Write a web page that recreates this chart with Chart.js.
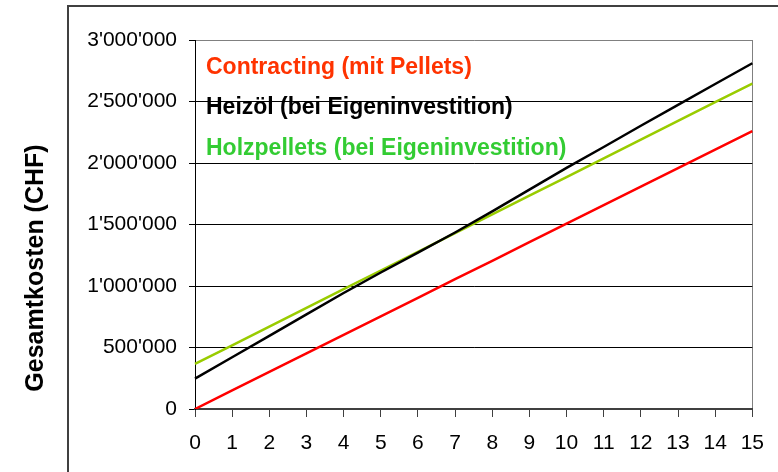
<!DOCTYPE html>
<html>
<head>
<meta charset="utf-8">
<script src="https://cdn.jsdelivr.net/npm/chart.js@4"></script>
<style>
    body { margin: 0; background: #fff; }
    #wrap { width: 778px; height: 472px; }
</style>
</head>
<body>
<div id="wrap"><canvas id="kostenChart" width="778" height="472"></canvas></div>
<script>
// Daten (Jahre und Gesamtkosten in CHF)
const jahre = ['0', '1', '2', '3', '4', '5', '6', '7', '8', '9', '10', '11', '12', '13', '14', '15'];

const contracting = [0, 151000, 301000, 452000, 603000, 753000, 904000, 1055000,
    1205000, 1356000, 1507000, 1657000, 1808000, 1959000, 2109000, 2260000];

const heizoel = [247000, 421000, 595000, 769000, 943000, 1110000, 1272000, 1435000,
    1606000, 1783000, 1960000, 2130000, 2303000, 2473000, 2642000, 2811000];

const holzpellets = [366000, 518000, 670000, 822000, 974000, 1126000, 1278000, 1430000,
    1582000, 1734000, 1886000, 2038000, 2190000, 2342000, 2494000, 2646000];

const serienNamen = ['Contracting (mit Pellets)', 'Heizöl (bei Eigeninvestition)', 'Holzpellets (bei Eigeninvestition)'];
const yTicks = [0, 500000, 1000000, 1500000, 2000000, 2500000, 3000000];
const yTitel = 'Gesamtkosten (CHF)';

const FONT = "'Liberation Sans', Arial, sans-serif";

// Zahl mit Apostroph als Tausendertrennzeichen
function formatCHF(value) {
    return String(value).replace(/\B(?=(\d{3})+(?!\d))/g, "'");
}

// Rahmen, Achsentitel und Beschriftungen zeichnen
const extras = {
    id: 'extras',
    beforeDraw(chart) {
        const ctx = chart.ctx;
        ctx.save();
        ctx.strokeStyle = '#404040';
        ctx.lineWidth = 2;
        ctx.beginPath();
        ctx.moveTo(68, 472);
        ctx.lineTo(68, 6);
        ctx.lineTo(778, 6);
        ctx.stroke();

        ctx.translate(43, 268);
        ctx.rotate(-Math.PI / 2);
        ctx.fillStyle = '#000';
        ctx.font = 'bold 25px ' + FONT;
        ctx.textAlign = 'center';
        ctx.textBaseline = 'alphabetic';
        ctx.fillText(yTitel, 0, 0);
        ctx.restore();
    },
    afterDraw(chart) {
        const ctx = chart.ctx;
        const farben = ['#FF3300', '#000000', '#33CC33'];
        const zeilen = [74, 114, 155];
        ctx.save();
        ctx.font = 'bold 23px ' + FONT;
        ctx.textAlign = 'left';
        ctx.textBaseline = 'alphabetic';
        serienNamen.forEach((name, i) => {
            ctx.fillStyle = farben[i];
            ctx.fillText(name, chart.chartArea.left + 11, zeilen[i]);
        });
        ctx.restore();
    }
};

const ctx = document.getElementById('kostenChart').getContext('2d');

new Chart(ctx, {
    type: 'line',
    data: {
        labels: jahre,
        datasets: [
            { label: serienNamen[0], data: contracting, borderColor: '#FF0000', borderWidth: 2.5, pointRadius: 0, tension: 0 },
            { label: serienNamen[1], data: heizoel, borderColor: '#000000', borderWidth: 2.5, pointRadius: 0, tension: 0 },
            { label: serienNamen[2], data: holzpellets, borderColor: '#99CC00', borderWidth: 2.5, pointRadius: 0, tension: 0 }
        ]
    },
    options: {
        responsive: false,
        animation: false,
        layout: { padding: { top: 40, right: 23, left: 0, bottom: 0 } },
        plugins: {
            legend: { display: false },
            tooltip: { enabled: false }
        },
        scales: {
            x: {
                offset: false,
                grid: {
                    drawOnChartArea: true,
                    color: c => (c.index === jahre.length - 1 ? '#808080' : 'rgba(0,0,0,0)'),
                    tickColor: '#404040',
                    tickLength: 8
                },
                border: { color: '#404040', width: 2 },
                ticks: {
                    color: '#000',
                    font: { family: FONT, size: 21 },
                    padding: 14,
                    maxRotation: 0,
                    autoSkip: false
                },
                afterFit: scale => { scale.height = 63; }
            },
            y: {
                min: 0,
                max: 3000000,
                afterBuildTicks: scale => { scale.ticks = yTicks.map(v => ({ value: v })); },
                grid: {
                    color: c => (c.tick.value === 3000000 ? '#808080' : c.tick.value === 0 ? 'rgba(0,0,0,0)' : '#000'),
                    tickColor: '#000',
                    tickLength: 6,
                    lineWidth: 1
                },
                border: { color: '#000', width: 1 },
                ticks: {
                    color: '#000',
                    font: { family: FONT, size: 21 },
                    padding: 12,
                    callback: value => formatCHF(value)
                },
                afterFit: scale => { scale.width = 195; }
            }
        }
    },
    plugins: [extras]
});
</script>
</body>
</html>
